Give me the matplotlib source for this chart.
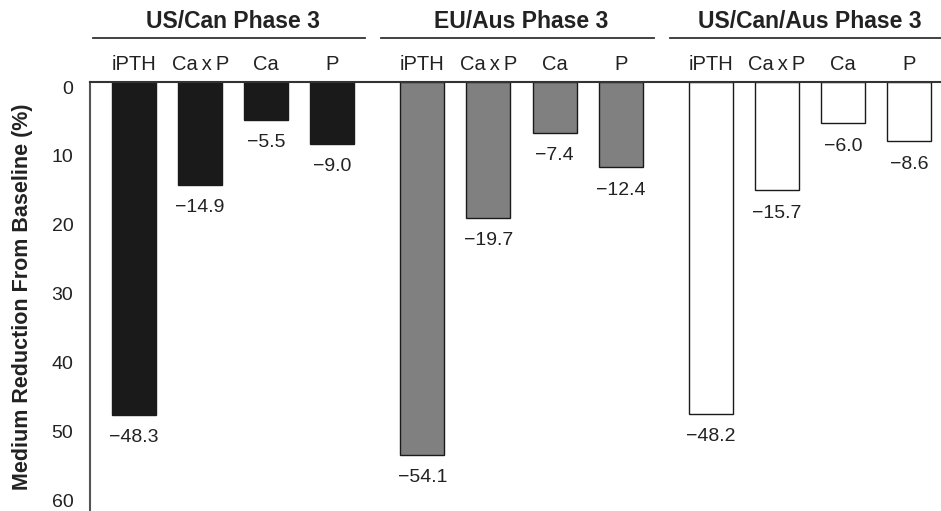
import matplotlib
matplotlib.use("Agg")
import matplotlib.pyplot as plt
import matplotlib.transforms as mtransforms
from matplotlib.lines import Line2D

# data: median reduction from baseline (%)
groups = ["US/Can Phase 3", "EU/Aus Phase 3", "US/Can/Aus Phase 3"]
params = ["iPTH", "Ca\u2009x\u2009P", "Ca", "P"]
us_can = [48.3, 14.9, 5.5, 9.0]
eu_aus = [54.1, 19.7, 7.4, 12.4]
us_can_aus = [48.2, 15.7, 6.0, 8.6]
yticks = [0, 10, 20, 30, 40, 50, 60]

series = [us_can, eu_aus, us_can_aus]
faces = ["#1a1a1a", "#808080", "white"]
group_step = 4 + 24 / 66.0
bar_w = 44 / 66.0

plt.rcParams['font.family'] = ['Liberation Sans', 'DejaVu Sans']
fig = plt.figure(figsize=(9.41, 5.11), dpi=100)
ax = fig.add_axes([90 / 941, 0, 1 - 90 / 941, 1 - 82 / 511])

trans = mtransforms.blended_transform_factory(ax.transData, fig.transFigure)
for g, vals in enumerate(series):
    xs = [g * group_step + i for i in range(len(vals))]
    ax.bar(xs, vals, width=bar_w, bottom=0, color=faces[g], edgecolor="#1a1a1a", linewidth=1.0)
    for x, v in zip(xs, vals):
        ax.annotate("\u2212%.1f" % v, (x, v), xytext=(0, -16.5), textcoords="offset points",
                    ha="center", va="center", fontsize=14, color="#222222")
    # parameter labels above the axes
    for x, p in zip(xs, params):
        ax.text(x, 1 - 64 / 511, p, transform=trans, ha="center", va="center",
                fontsize=14.5, color="#222222")
    # group heading + underline
    ax.text((xs[0] + xs[-1]) / 2, 1 - 22 / 511, groups[g], transform=trans,
            ha="center", va="center", fontsize=16.5, fontweight="bold", color="#222222")
    x1 = xs[-1] + 0.5 if g < 2 else xs[-1] + 1.0
    fig.add_artist(Line2D([xs[0] - 0.62, x1], [1 - 38 / 511] * 2, transform=trans,
                          color="#333333", linewidth=1.3, clip_on=False))

ax.set_xlim(-44 / 66.0, 2 * group_step + 3 + 32 / 66.0)
ax.set_ylim(62.3, 0)
ax.set_yticks(yticks)
ax.set_yticklabels([str(t) for t in yticks], fontsize=14, color="#222222")
ax.tick_params(axis="y", length=0, pad=12)
# labels in the original sit a few pixels below their gridline
shift = mtransforms.ScaledTranslation(0, -5 / 100, fig.dpi_scale_trans)
for lab in ax.get_yticklabels():
    lab.set_transform(lab.get_transform() + shift)
ax.set_xticks([])
ax.spines["right"].set_visible(False)
ax.spines["bottom"].set_visible(False)
ax.spines["left"].set_color("#555555")
ax.spines["left"].set_linewidth(1.5)
ax.spines["top"].set_color("#333333")
ax.spines["top"].set_linewidth(1.5)
ax.set_ylabel("Medium Reduction From Baseline (%)", fontsize=15.5, fontweight="bold",
              color="#222222")
ax.yaxis.set_label_coords(-57 / 851, 0.5)

fig.savefig("out.png", dpi=100)
